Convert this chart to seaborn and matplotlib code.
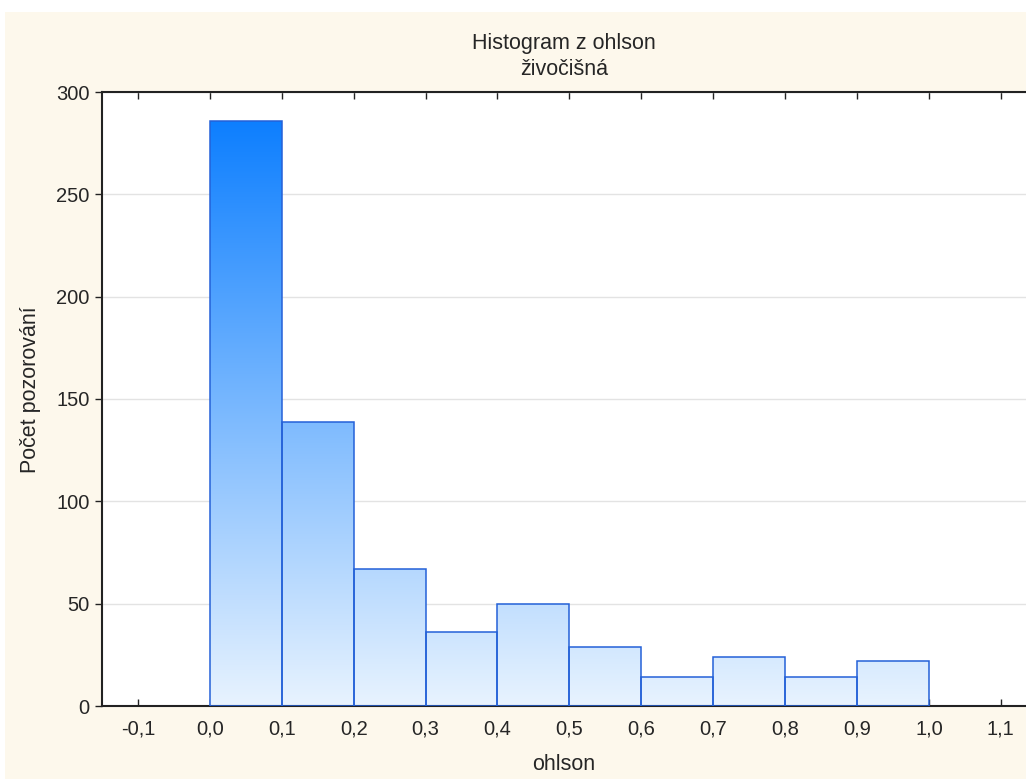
import numpy as np
import matplotlib
matplotlib.use("Agg")
import matplotlib.pyplot as plt
from matplotlib.colors import LinearSegmentedColormap
from matplotlib.patches import Rectangle
import seaborn as sns

# histogram data
bin_edges = [0.0, 0.1, 0.2, 0.3, 0.4, 0.5, 0.6, 0.7, 0.8, 0.9, 1.0]
counts = [286, 139, 67, 36, 50, 29, 14, 24, 14, 22]
xticks = [-0.1, 0.0, 0.1, 0.2, 0.3, 0.4, 0.5, 0.6, 0.7, 0.8, 0.9, 1.0, 1.1]
yticks = [0, 50, 100, 150, 200, 250, 300]
centers = [(a + b) / 2 for a, b in zip(bin_edges[:-1], bin_edges[1:])]

sns.set_style("white")
plt.rcParams['font.family'] = ['Liberation Sans', 'DejaVu Sans']

fig = plt.figure(figsize=(10.26, 7.79), dpi=100)
fig.patch.set_facecolor("white")
fig.patches.append(Rectangle((5 / 1026, 0), 1, 1 - 12 / 779, transform=fig.transFigure,
                             facecolor="#fdf8ec", edgecolor="none", zorder=-10))
ax = fig.add_axes([102 / 1026, 1 - 706 / 779, 1 - 102 / 1026, (706 - 92) / 779])
ax.set_facecolor("white")

sns.histplot(x=centers, weights=counts, bins=bin_edges, ax=ax,
             edgecolor="#2461d8", linewidth=1.1, facecolor="none", alpha=1, zorder=3)

# vertical blue gradient inside the bars
cmap = LinearSegmentedColormap.from_list("blu", ["#e8f3fe", "#0c7eff"])
grad = np.linspace(0, 1, 256).reshape(-1, 1)
for p in ax.patches:
    x0 = p.get_x()
    w = p.get_width()
    im = ax.imshow(grad, cmap=cmap, origin="lower", aspect="auto",
                   extent=[x0, x0 + w, 0, 288], zorder=2)
    im.set_clip_path(p)

ax.set_xlim(-0.15, 1.135)
ax.set_ylim(0, 300)
ax.set_xticks(xticks)
ax.set_xticklabels([f"{t:.1f}".replace(".", ",") for t in xticks], fontsize=14.5)
ax.set_yticks(yticks)
ax.set_yticklabels([str(t) for t in yticks], fontsize=14.5)
ax.yaxis.grid(True, color="#e3e3e3", linewidth=1, zorder=0)
ax.set_axisbelow(True)

ax.tick_params(axis="x", direction="in", top=True, bottom=True, length=5, width=1, color="#222222", pad=10)
ax.tick_params(axis="y", direction="out", left=True, length=5, width=1, color="#222222", pad=4)
for s in ["left", "bottom", "top"]:
    ax.spines[s].set_color("#222222")
    ax.spines[s].set_linewidth(1.5)
ax.spines["right"].set_visible(False)

ax.set_xlabel("ohlson", fontsize=15.5, labelpad=11)
ax.set_ylabel("Počet pozorování", fontsize=15.5)
ax.yaxis.set_label_coords(-0.066, 0.515)
ax.set_title("Histogram z ohlson\nživočišná", fontsize=15.5, linespacing=1.35, pad=12)

fig.savefig("out.png", dpi=100, facecolor=fig.get_facecolor())
